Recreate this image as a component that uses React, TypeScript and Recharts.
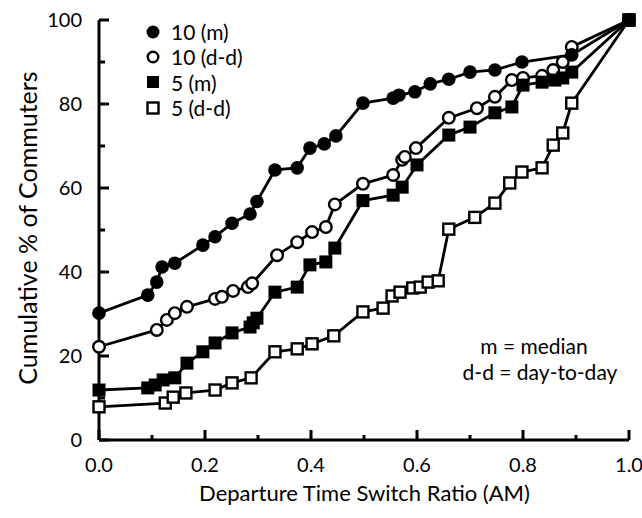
import React from 'react';
import { LineChart, Line, XAxis, YAxis } from 'recharts';

// 10 (m) - filled circles
const m10X = [0, 0.092, 0.109, 0.119, 0.143, 0.196, 0.219, 0.251, 0.285, 0.298, 0.332, 0.374, 0.398, 0.425, 0.447, 0.498, 0.555, 0.566, 0.596, 0.625, 0.66, 0.7, 0.747, 0.798, 0.892, 1.0];
const m10Y = [30.2, 34.5, 37.6, 41.2, 42.1, 46.4, 48.4, 51.6, 53.8, 56.8, 64.3, 64.8, 69.5, 70.5, 72.4, 80.2, 81.4, 82.1, 82.9, 84.8, 85.9, 87.6, 88.1, 90.0, 91.7, 100];

// 10 (d-d) - open circles
const dd10X = [0, 0.109, 0.128, 0.143, 0.166, 0.219, 0.232, 0.253, 0.281, 0.289, 0.336, 0.374, 0.402, 0.428, 0.445, 0.498, 0.555, 0.572, 0.577, 0.598, 0.66, 0.713, 0.747, 0.779, 0.8, 0.836, 0.857, 0.875, 0.892, 1.0];
const dd10Y = [22.2, 26.2, 28.6, 30.2, 31.7, 33.6, 34.1, 35.5, 36.4, 37.3, 44.0, 47.1, 49.5, 50.7, 56.1, 61.0, 63.1, 66.7, 67.4, 69.5, 76.7, 79.0, 81.7, 85.7, 86.2, 86.7, 88.1, 90.0, 93.6, 100];

// 5 (m) - filled squares
const m5X = [0, 0.092, 0.106, 0.121, 0.143, 0.166, 0.196, 0.219, 0.251, 0.285, 0.291, 0.298, 0.332, 0.374, 0.398, 0.428, 0.445, 0.498, 0.555, 0.572, 0.6, 0.66, 0.7, 0.747, 0.779, 0.8, 0.836, 0.86, 0.875, 0.892, 1.0];
const m5Y = [11.9, 12.4, 13.1, 14.3, 14.8, 18.3, 21.0, 23.1, 25.5, 26.9, 27.9, 29.0, 35.2, 36.4, 41.7, 42.4, 45.7, 57.0, 58.3, 60.2, 65.5, 72.6, 74.5, 77.9, 79.3, 84.5, 85.2, 85.7, 86.2, 87.6, 100];

// 5 (d-d) - open squares
const dd5X = [0, 0.125, 0.14, 0.164, 0.219, 0.251, 0.287, 0.332, 0.374, 0.402, 0.443, 0.498, 0.536, 0.553, 0.568, 0.592, 0.606, 0.621, 0.64, 0.66, 0.709, 0.747, 0.775, 0.798, 0.836, 0.857, 0.875, 0.892, 1.0];
const dd5Y = [7.9, 8.8, 10.2, 11.2, 11.9, 13.6, 14.8, 21.0, 21.7, 22.9, 24.8, 30.5, 31.4, 34.3, 35.2, 36.2, 36.4, 37.6, 37.9, 50.2, 53.0, 56.4, 61.2, 63.8, 64.8, 70.2, 73.1, 80.2, 100];

const xTicks = [0, 0.1, 0.2, 0.3, 0.4, 0.5, 0.6, 0.7, 0.8, 0.9, 1.0];
const yTicks = [0, 10, 20, 30, 40, 50, 60, 70, 80, 90, 100];

const legendLabels = ['10 (m)', '10 (d-d)', '5 (m)', '5 (d-d)'];

const toPoints = (xs: number[], ys: number[]) => xs.map((x, i) => ({ x, y: ys[i] }));

const FONT = "Lato, 'Open Sans', sans-serif";

const FilledCircle = (p: any) => <circle key={p.index} cx={p.cx} cy={p.cy} r={6.8} fill="#000" />;
const OpenCircle = (p: any) => (
  <circle key={p.index} cx={p.cx} cy={p.cy} r={5.8} fill="#fff" stroke="#000" strokeWidth={2.4} />
);
const FilledSquare = (p: any) => <rect key={p.index} x={p.cx - 6.5} y={p.cy - 6.5} width={13} height={13} fill="#000" />;
const OpenSquare = (p: any) => (
  <rect key={p.index} x={p.cx - 5.5} y={p.cy - 5.5} width={11} height={11} fill="#fff" stroke="#000" strokeWidth={2.4} />
);

// inward ticks, longer on labelled values
const YTick = (props: any) => {
  const { x, y, payload } = props;
  const major = Math.round(payload.value) % 20 === 0;
  return (
    <g>
      <path d={`M${x},${y}h${major ? 10 : 6}`} stroke="#000" strokeWidth={3} fill="none" />
      {major && (
        <text x={x - 17} y={y} dy={7} textAnchor="end" fontSize={20} fontFamily={FONT} fill="#000">
          {payload.value}
        </text>
      )}
    </g>
  );
};

const XTick = (props: any) => {
  const { x, y, payload } = props;
  const major = Math.round(payload.value * 10) % 2 === 0;
  return (
    <g>
      <path d={`M${x},${y}v${major ? -10 : -5}`} stroke="#000" strokeWidth={3} fill="none" />
      {major && (
        <text x={x} y={y + 32} textAnchor="middle" fontSize={20} fontFamily={FONT} fill="#000">
          {payload.value.toFixed(1)}
        </text>
      )}
    </g>
  );
};

const legendMarker = (i: number) => {
  if (i === 0) return <circle cx={8} cy={8} r={6.5} fill="#000" />;
  if (i === 1) return <circle cx={8} cy={8} r={5.3} fill="#fff" stroke="#000" strokeWidth={2.4} />;
  if (i === 2) return <rect x={2} y={2} width={12} height={12} fill="#000" />;
  return <rect x={2.5} y={2.5} width={11} height={11} fill="#fff" stroke="#000" strokeWidth={2.4} />;
};

export default function App() {
  return (
    <div style={{ position: 'absolute', left: 0, top: 0, width: 642, height: 518, background: '#fff', fontFamily: FONT }}>
      <LineChart width={642} height={518} margin={{ top: 20, right: 13, bottom: 0, left: 0 }}>
        <XAxis
          type="number"
          dataKey="x"
          domain={[0, 1]}
          ticks={xTicks}
          interval={0}
          height={78}
          tickSize={0}
          tickMargin={0}
          tickLine={false}
          axisLine={{ stroke: '#000', strokeWidth: 3 }}
          tick={<XTick />}
          allowDuplicatedCategory={false}
        />
        <YAxis
          type="number"
          dataKey="y"
          domain={[0, 100]}
          ticks={yTicks}
          interval={0}
          width={99}
          tickSize={0}
          tickMargin={0}
          tickLine={false}
          axisLine={{ stroke: '#000', strokeWidth: 3 }}
          tick={<YTick />}
        />
        <Line data={toPoints(dd5X, dd5Y)} dataKey="y" stroke="#000" strokeWidth={2.8} dot={OpenSquare} isAnimationActive={false} />
        <Line data={toPoints(dd10X, dd10Y)} dataKey="y" stroke="#000" strokeWidth={2.8} dot={OpenCircle} isAnimationActive={false} />
        <Line data={toPoints(m10X, m10Y)} dataKey="y" stroke="#000" strokeWidth={2.8} dot={FilledCircle} isAnimationActive={false} />
        <Line data={toPoints(m5X, m5Y)} dataKey="y" stroke="#000" strokeWidth={2.8} dot={FilledSquare} isAnimationActive={false} />
      </LineChart>

      {/* legend */}
      <div style={{ position: 'absolute', left: 145, top: 19 }}>
        {legendLabels.map((label, i) => (
          <div key={label} style={{ display: 'flex', alignItems: 'center', height: 25.3 }}>
            <svg width={16} height={16} style={{ marginRight: 10 }}>
              {legendMarker(i)}
            </svg>
            <span style={{ fontSize: 21, lineHeight: '25px' }}>{label}</span>
          </div>
        ))}
      </div>

      {/* note */}
      <div style={{ position: 'absolute', left: 440, top: 333, width: 200, textAlign: 'center', fontSize: 21, lineHeight: '26px' }}>
        <div style={{ paddingRight: 12 }}>m = median</div>
        <div>d-d = day-to-day</div>
      </div>

      {/* axis titles */}
      <div style={{ position: 'absolute', left: 100, width: 529, top: 479, textAlign: 'center', fontSize: 22 }}>
        Departure Time Switch Ratio (AM)
      </div>
      <div
        style={{
          position: 'absolute',
          left: 27 - 200,
          top: 228 - 15,
          width: 400,
          height: 30,
          lineHeight: '30px',
          textAlign: 'center',
          fontSize: 25,
          transform: 'rotate(-90deg)',
        }}
      >
        Cumulative % of Commuters
      </div>
    </div>
  );
}
